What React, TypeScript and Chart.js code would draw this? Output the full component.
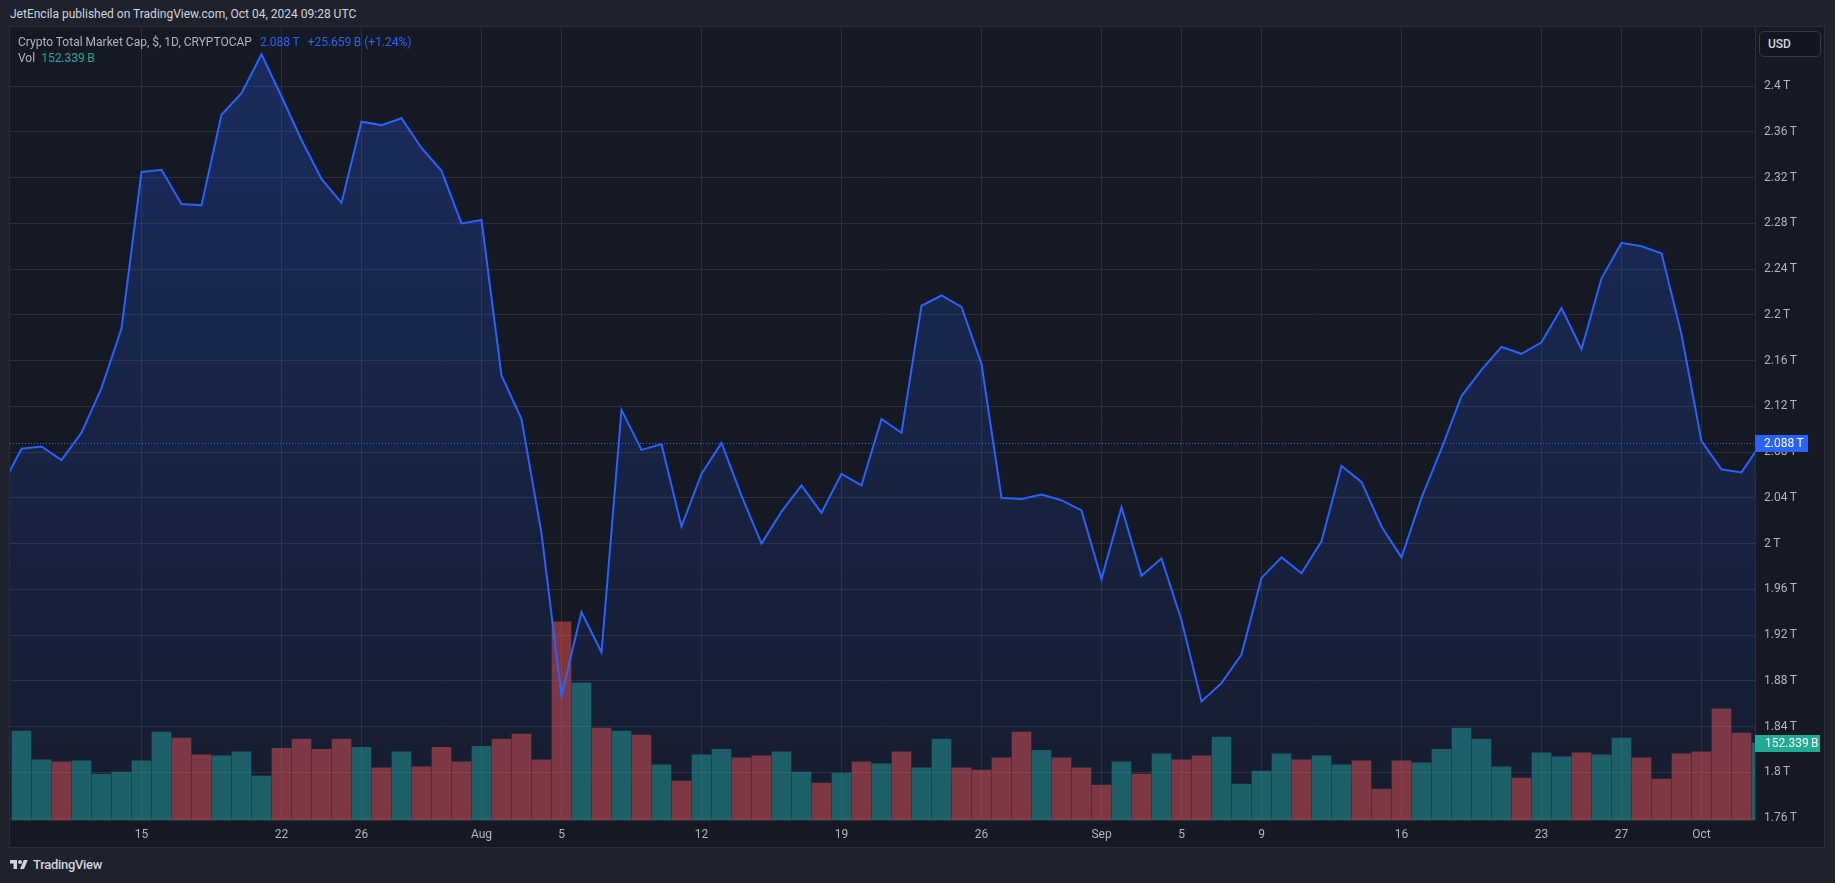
import React, { useEffect, useRef } from "react";
import { Chart, registerables } from "chart.js";

Chart.register(...registerables);

// ---------- data ----------
const startDate = "2024-07-08";

// daily closes, trillions USD (from 2024-07-08 to 2024-10-04)
const closes = [
  2.0495, 2.083, 2.085, 2.073, 2.097, 2.136, 2.188, 2.325, 2.327, 2.297,
  2.296, 2.375, 2.394, 2.428, 2.391, 2.353, 2.319, 2.298, 2.369, 2.366,
  2.372, 2.346, 2.326, 2.28, 2.283, 2.147, 2.109, 2.009, 1.867, 1.94,
  1.905, 2.117, 2.082, 2.087, 2.015, 2.061, 2.088, 2.042, 2.0, 2.028,
  2.051, 2.027, 2.061, 2.051, 2.109, 2.097, 2.208, 2.217, 2.207, 2.157,
  2.04, 2.039, 2.043, 2.038, 2.029, 1.969, 2.032, 1.972, 1.987, 1.933,
  1.862, 1.878, 1.903, 1.97, 1.988, 1.974, 2.002, 2.068, 2.054, 2.015,
  1.988, 2.04, 2.083, 2.129, 2.152, 2.172, 2.166, 2.176, 2.206, 2.17,
  2.232, 2.263, 2.26, 2.254, 2.183, 2.0896, 2.065, 2.0623, 2.088,
];

// daily volume, billions USD (same dates; first day not shown)
const volumes: (number | null)[] = [
  null,
  176, 119, 115, 117, 91, 95, 117, 174, 162, 129,
  127, 135, 87, 142, 160, 140, 160, 144, 103, 135,
  105, 144, 115, 146, 160, 170, 119, 392, 271, 182,
  176, 168, 109, 77, 129, 140, 123, 127, 135, 95,
  73, 93, 115, 111, 135, 103, 160, 103, 99, 123,
  174, 138, 123, 103, 69, 115, 91, 131, 119, 127,
  164, 71, 97, 131, 119, 127, 109, 117, 61, 117,
  113, 140, 182, 160, 105, 83, 133, 125, 133, 129,
  162, 123, 81, 131, 135, 220, 172, 152.339,
];

const timeTickDates = [
  "2024-07-15", "2024-07-22", "2024-07-26", "2024-08-01", "2024-08-05",
  "2024-08-12", "2024-08-19", "2024-08-26", "2024-09-01", "2024-09-05",
  "2024-09-09", "2024-09-16", "2024-09-23", "2024-09-27", "2024-10-01",
];
const timeTickLabels = [
  "15", "22", "26", "Aug", "5", "12", "19", "26", "Sep", "5", "9", "16", "23", "27", "Oct",
];
const priceTicks = [
  1.76, 1.8, 1.84, 1.88, 1.92, 1.96, 2, 2.04, 2.08, 2.12, 2.16, 2.2, 2.24, 2.28, 2.32, 2.36, 2.4,
];

const headerText = "JetEncila published on TradingView.com, Oct 04, 2024 09:28 UTC";
const seriesTitle = "Crypto Total Market Cap, $, 1D, CRYPTOCAP";
const changeText = "+25.659\u2009B (+1.24%)";
const volTitle = "Vol";
const currencyText = "USD";
const brandText = "TradingView";

// ---------- view / style ----------
const VIEW_MIN = 0.425;
const VIEW_MAX = 87.675;
const PRICE_MIN = 1.7583;
const PRICE_MAX = 2.4518;
const VOL_MAX = 1569;

const FONT = "Roboto, 'Noto Sans', sans-serif";
const BG = "#151924";
const OUTER = "#1e222d";
const GRID = "rgba(46,50,62,0.85)";
const AXIS_LINE = "#2a2e39";
const TEXT = "#b2b5be";
const BLUE = "#2962ff";
const TEAL = "#22ab94";
const UP_VOL = "rgba(38,166,154,0.5)";
const DOWN_VOL = "rgba(239,83,80,0.5)";

const DAY = 86400000;
const dayIndex = (d: string) =>
  Math.round((Date.parse(d + "T00:00:00Z") - Date.parse(startDate + "T00:00:00Z")) / DAY);

const tSuffix = (v: number, s: string) => `${v}\u2009${s}`;

const lastClose = closes[closes.length - 1];
const lastVol = volumes[volumes.length - 1] as number;

function badge(ctx: CanvasRenderingContext2D, x: number, y: number, w: number, color: string, text: string, pad: number) {
  ctx.save();
  ctx.fillStyle = color;
  ctx.fillRect(x, Math.round(y) - 8, w, 17);
  ctx.fillStyle = "#ffffff";
  ctx.font = `12px ${FONT}`;
  ctx.textBaseline = "middle";
  ctx.textAlign = "left";
  ctx.fillText(text, x + pad, Math.round(y) + 0.5);
  ctx.restore();
}

const decorPlugin = {
  id: "tvDecor",
  beforeDraw(chart: any) {
    const { ctx, width, height } = chart;
    ctx.save();
    ctx.fillStyle = BG;
    ctx.fillRect(0, 0, width, height);
    ctx.restore();
  },
  afterDatasetsDraw(chart: any) {
    const { ctx, chartArea, scales } = chart;
    const y = Math.round(scales.y.getPixelForValue(lastClose)) + 0.5;
    ctx.save();
    ctx.strokeStyle = BLUE;
    ctx.lineWidth = 1;
    ctx.setLineDash([1, 2]);
    ctx.beginPath();
    ctx.moveTo(chartArea.left, y);
    ctx.lineTo(chartArea.right, y);
    ctx.stroke();
    ctx.restore();
  },
  afterDraw(chart: any) {
    const { ctx, chartArea, scales } = chart;
    badge(ctx, chartArea.right, scales.y.getPixelForValue(lastClose), 53, BLUE, tSuffix(Number(lastClose.toFixed(3)), "T"), 9);
    badge(ctx, chartArea.right, scales.yv.getPixelForValue(lastVol), 65, TEAL, `${lastVol.toFixed(3)}\u2009B`, 10);
  },
};

function MarketChart() {
  const ref = useRef<HTMLCanvasElement | null>(null);
  useEffect(() => {
    if (!ref.current) return;
    const linePts = closes.map((c, i) => ({ x: i, y: c }));
    const volPts = volumes.map((v, i) => ({ x: i, y: v }));
    const volColors = volumes.map((_, i) =>
      i > 0 && closes[i] >= closes[i - 1] ? UP_VOL : DOWN_VOL
    );
    const chart = new Chart(ref.current, {
      type: "bar",
      data: {
        datasets: [
          {
            type: "line",
            data: linePts,
            yAxisID: "y",
            borderColor: BLUE,
            borderWidth: 2,
            pointRadius: 0,
            tension: 0,
            clip: 0,
            order: 0,
            fill: "start",
            backgroundColor: (context: any) => {
              const { chart: c } = context;
              const area = c.chartArea;
              if (!area) return "rgba(41,98,255,0.15)";
              const g = c.ctx.createLinearGradient(0, area.top, 0, area.bottom);
              g.addColorStop(0, "rgba(41,98,255,0.27)");
              g.addColorStop(1, "rgba(41,98,255,0.04)");
              return g;
            },
          } as any,
          {
            type: "bar",
            data: volPts,
            yAxisID: "yv",
            backgroundColor: volColors,
            barThickness: 19,
            grouped: false,
            clip: 0,
            order: 1,
          } as any,
        ],
      },
      options: {
        animation: false,
        responsive: false,
        maintainAspectRatio: false,
        events: [],
        layout: { padding: 0 },
        plugins: { legend: { display: false }, tooltip: { enabled: false } },
        scales: {
          x: {
            type: "linear",
            min: VIEW_MIN,
            max: VIEW_MAX,
            offset: false,
            bounds: "ticks",
            position: "bottom",
            afterBuildTicks: (scale: any) => {
              scale.ticks = timeTickDates.map((d) => ({ value: dayIndex(d) }));
            },
            afterFit: (scale: any) => {
              scale.height = 27;
              scale.paddingLeft = 0;
              scale.paddingRight = 0;
            },
            ticks: {
              autoSkip: false,
              maxRotation: 0,
              minRotation: 0,
              padding: 8,
              color: TEXT,
              font: { family: FONT, size: 12 },
              callback: (_v: any, i: number) => timeTickLabels[i],
            },
            grid: { color: GRID, drawTicks: false, lineWidth: 1, offset: false },
            border: { display: true, color: AXIS_LINE, width: 1 },
          },
          y: {
            type: "linear",
            position: "right",
            min: PRICE_MIN,
            max: PRICE_MAX,
            afterBuildTicks: (scale: any) => {
              scale.ticks = priceTicks.map((v) => ({ value: v }));
            },
            afterFit: (scale: any) => {
              scale.width = 69;
              scale.paddingTop = 0;
              scale.paddingBottom = 0;
            },
            ticks: {
              padding: 9,
              color: TEXT,
              font: { family: FONT, size: 12 },
              callback: (v: any) => tSuffix(Number(v), "T"),
            },
            grid: { color: GRID, drawTicks: false, lineWidth: 1 },
            border: { display: true, color: AXIS_LINE, width: 1 },
          },
          yv: {
            type: "linear",
            display: false,
            min: 0,
            max: VOL_MAX,
            afterFit: (scale: any) => {
              scale.paddingTop = 0;
              scale.paddingBottom = 0;
            },
            grid: { display: false },
          },
        },
      } as any,
      plugins: [decorPlugin as any],
    });
    return () => chart.destroy();
  }, []);
  return (
    <canvas
      ref={ref}
      width={1814}
      height={820}
      style={{ display: "block", width: 1814, height: 820 }}
    />
  );
}

export default function App() {
  return (
    <div
      style={{
        position: "fixed",
        left: 0,
        top: 0,
        width: 1835,
        height: 883,
        background: OUTER,
        overflow: "hidden",
        fontFamily: FONT,
      }}
    >
      <div
        style={{
          position: "absolute",
          left: 10,
          top: 6,
          fontSize: 12,
          lineHeight: "16px",
          color: "#d1d4dc",
          whiteSpace: "nowrap",
        }}
      >
        {headerText}
      </div>

      <div
        style={{
          position: "absolute",
          left: 9,
          top: 26,
          width: 1816,
          height: 822,
          border: `1px solid ${AXIS_LINE}`,
          boxSizing: "border-box",
          background: BG,
        }}
      >
        <MarketChart />
      </div>

      {/* legend */}
      <div
        style={{
          position: "absolute",
          left: 18,
          top: 34,
          fontSize: 12,
          lineHeight: "16px",
          whiteSpace: "nowrap",
          color: TEXT,
        }}
      >
        <span>{seriesTitle}</span>
        <span style={{ color: BLUE, marginLeft: 8 }}>{tSuffix(Number(lastClose.toFixed(3)), "T")}</span>
        <span style={{ color: BLUE, marginLeft: 8 }}>{changeText}</span>
      </div>
      <div
        style={{
          position: "absolute",
          left: 18,
          top: 50,
          fontSize: 12,
          lineHeight: "16px",
          whiteSpace: "nowrap",
          color: TEXT,
        }}
      >
        <span>{volTitle}</span>
        <span style={{ color: TEAL, marginLeft: 6 }}>{`${lastVol.toFixed(3)}\u2009B`}</span>
      </div>

      {/* currency button */}
      <div
        style={{
          position: "absolute",
          left: 1759,
          top: 31,
          width: 62,
          height: 26,
          boxSizing: "border-box",
          border: "1px solid #363a45",
          borderRadius: 5,
          background: "#131722",
          color: "#d1d4dc",
          fontSize: 12,
          fontWeight: 500,
          lineHeight: "24px",
          paddingLeft: 8,
        }}
      >
        {currencyText}
      </div>

      {/* brand */}
      <div style={{ position: "absolute", left: 10, top: 858, display: "flex", alignItems: "center" }}>
        <svg width="18" height="14" viewBox="0 0 36 28">
          <path d="M14 22H7V11H0V4h14v18zM28 22h-8l7.5-18h8L28 22z" fill="#d1d4dc" />
          <circle cx="20" cy="8" r="4" fill="#d1d4dc" />
        </svg>
        <span
          style={{
            marginLeft: 5,
            fontSize: 13,
            fontWeight: 500,
            color: "#d1d4dc",
            letterSpacing: -0.3,
            lineHeight: "14px",
          }}
        >
          {brandText}
        </span>
      </div>
    </div>
  );
}
